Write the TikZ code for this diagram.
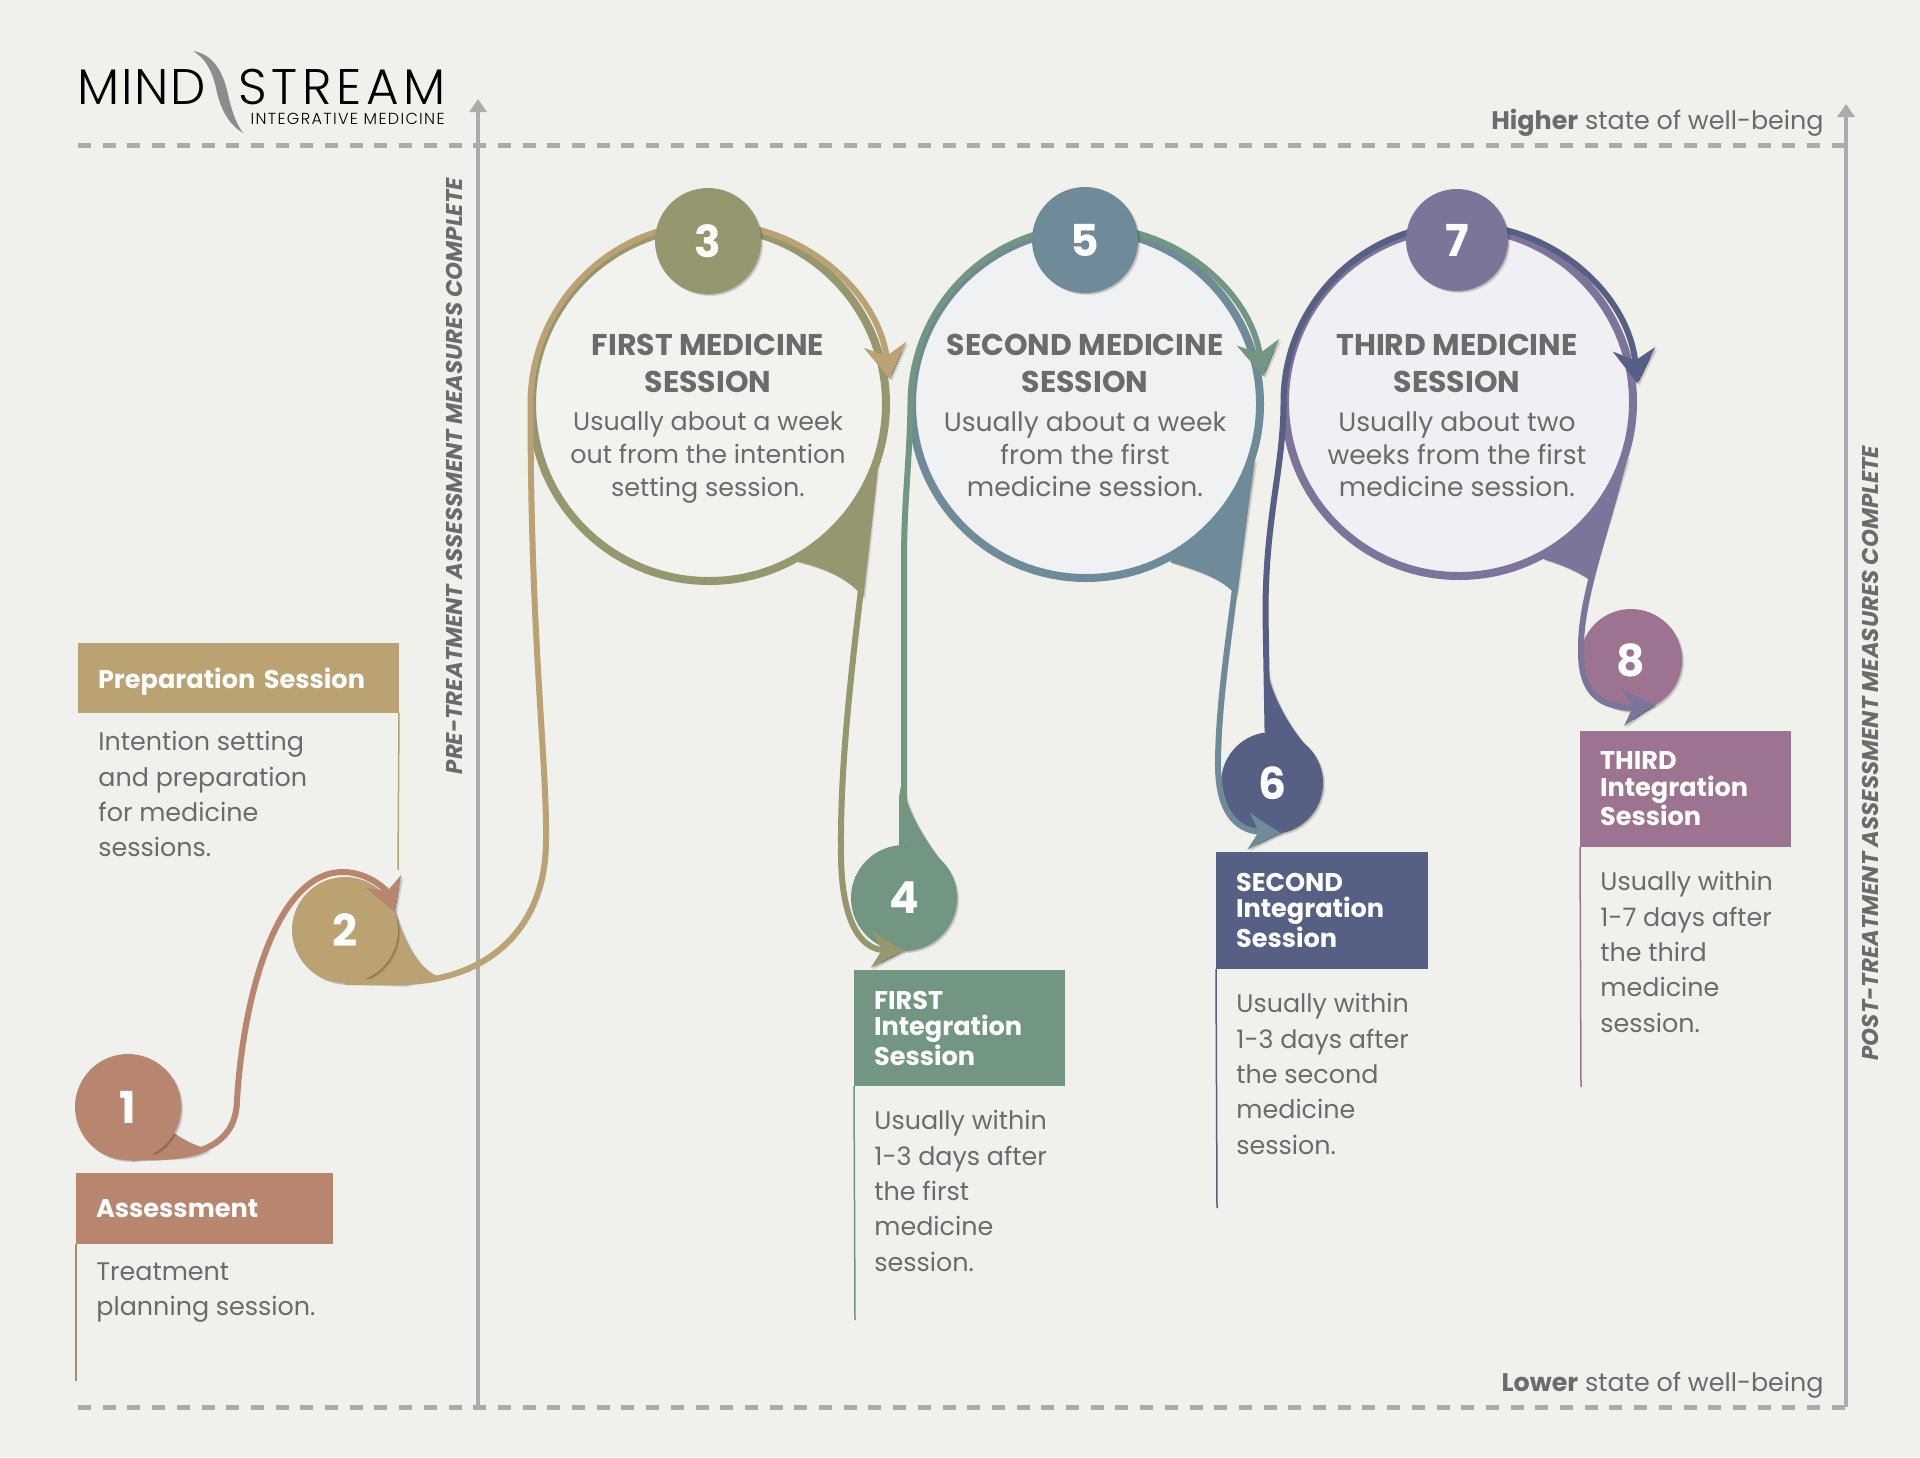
\documentclass[tikz,border=0pt]{standalone}
\usepackage{fontspec}
\setmainfont{Poppins}
\newfontfamily\logofont{Poppins}[UprightFont=*-Light]
\usetikzlibrary{arrows.meta,shadows}

\definecolor{paper}{HTML}{F0F0EC}
\definecolor{axisgrey}{HTML}{ABABAB}
\definecolor{inkgrey}{HTML}{6B6B6B}
\definecolor{clay}{HTML}{B8866F}
\definecolor{sand}{HTML}{BBA272}
\definecolor{olive}{HTML}{96966F}
\definecolor{sage}{HTML}{739682}
\definecolor{steel}{HTML}{6F8A99}
\definecolor{navy}{HTML}{565F84}
\definecolor{violet}{HTML}{7D7499}
\definecolor{plum}{HTML}{9C7390}
\definecolor{ringfilla}{HTML}{F2F2EE}
\definecolor{ringfillb}{HTML}{EFF1F3}
\definecolor{ringfillc}{HTML}{EFEFF4}

\tikzset{
softshadow/.style={general shadow={fill=black,opacity=.14,shadow xshift=.5pt,shadow yshift=-.5pt},
  general shadow={fill=black,opacity=.12,shadow xshift=1.1pt,shadow yshift=-1pt}},
numdot/.style={circle,fill=#1,minimum size=53pt,inner sep=0pt,outer sep=0pt,text=white,
  font=\fontsize{22}{24}\selectfont\bfseries,softshadow},
ringnode/.style={circle,draw=#1,line width=4pt,minimum size=174pt,inner sep=0pt,outer sep=.75pt,softshadow},
ringhead/.style={align=center,text=inkgrey,font=\fontsize{15}{18.5}\selectfont\bfseries},
ringbody/.style={anchor=north,align=center,text=inkgrey,font=\fontsize{13.3}{16.3}\selectfont},
headbox/.style={anchor=north west,fill=#1,text=white,align=left,inner xsep=10pt,inner ysep=0pt,outer sep=0pt,
  font=\fontsize{12.8}{13.2}\selectfont\bfseries},
bodytext/.style={anchor=north west,align=left,text=inkgrey,inner xsep=10pt,inner ysep=9pt,
  font=\fontsize{12.7}{17.7}\selectfont},
ribbon/.style={draw=#1,line width=3pt,-{Stealth[length=16pt,width=18pt,inset=5pt]},
  preaction={draw=black,draw opacity=.12,transform canvas={shift={(.6pt,-.6pt)}}},
  preaction={draw=black,draw opacity=.1,transform canvas={shift={(1.2pt,-1pt)}}}},
ringribbon/.style={ribbon=#1,-{Stealth[length=17pt,width=21pt,inset=5.5pt]}},
flare/.style={fill=#1,
  preaction={fill=black,fill opacity=.12,transform canvas={shift={(.6pt,-.6pt)}}},
  preaction={fill=black,fill opacity=.1,transform canvas={shift={(1.2pt,-1pt)}}}},
level/.style={draw=axisgrey,line width=2.5pt,dash pattern=on 6.5pt off 5.85pt},
axis/.style={draw=axisgrey,line width=1.75pt,-{Triangle[length=6.5pt,width=8.5pt]}},
sidelabel/.style={rotate=90,text=inkgrey,font=\fontsize{11.4}{13}\selectfont\bfseries\itshape},
endlabel/.style={anchor=base east,inner sep=0pt,text=inkgrey,font=\fontsize{12.7}{16}\selectfont},
}

\begin{document}
\begin{tikzpicture}[x=.5pt,y=-.5pt]
\useasboundingbox[fill=paper] (0,0) rectangle (1920,1457);

% logo
\fill[black!45] (193,51) .. controls (212,54) and (222,70) .. (227,90) .. controls (231,108) and (235,122) .. (243,133)
 .. controls (228,124) and (220,108) .. (216,88) .. controls (212,70) and (205,58) .. (193,51) -- cycle;
\node[anchor=base west,inner sep=0pt,font=\logofont\fontsize{25}{25}\selectfont\addfontfeature{LetterSpace=3.7}] (logoa) at (77,104) {MIND};
\node[anchor=base west,inner sep=0pt,font=\logofont\fontsize{25}{25}\selectfont\addfontfeature{LetterSpace=9.5}] (logob) at (238,104) {STREAM};
\node[anchor=base east,inner sep=0pt,font=\logofont\fontsize{8}{8}\selectfont\addfontfeature{LetterSpace=8.4}] (logoc) at (445,124) {INTEGRATIVE MEDICINE};

% levels and axes
\coordinate (topl) at (78,145);
\coordinate (topr) at (1846,145);
\coordinate (botl) at (78,1407);
\coordinate (botr) at (1846,1407);
\coordinate (prea) at (478,1407);
\coordinate (preb) at (478,99);
\coordinate (posta) at (1846,1407);
\coordinate (postb) at (1846,104);
\draw[level] (topl)--(topr);
\draw[level] (botl)--(botr);
\draw[axis] (prea)--(preb);
\draw[axis] (posta)--(postb);
\node[sidelabel] (prelabel) at (454,476) {PRE-TREATMENT ASSESSMENT MEASURES COMPLETE};
\node[sidelabel] (postlabel) at (1870,753) {POST-TREATMENT ASSESSMENT MEASURES COMPLETE};
\node[endlabel] (hilabel) at (1824,129) {\textbf{Higher} state of well-being};
\node[endlabel] (lolabel) at (1824,1391) {\textbf{Lower} state of well-being};

% text boxes
\node[headbox=clay,minimum height=35.5pt,text width=108.5pt] (boxa) at (76,1173) {Assessment};
\node[bodytext] (texta) at (boxa.south west) {Treatment\\planning session.};
\coordinate (enda) at (76,1381);
\draw[clay,line width=.75pt] (boxa.south west)--(enda);
\node[headbox=sand,minimum height=35pt,text width=140.5pt,text depth=0pt] (boxb) at (78,643) {Preparation Session};
\node[bodytext] (textb) at (boxb.south west) {Intention setting\\and preparation\\for medicine\\sessions.};
\coordinate (endb) at (398,870);
\draw[sand,line width=.75pt] (boxb.south east)--(endb);
\node[headbox=sage,minimum height=58pt,text width=85.5pt] (boxc) at (854,970) {FIRST\\Integration\\Session};
\node[bodytext,inner ysep=12pt] (textc) at (boxc.south west) {Usually within\\1-3 days after\\the first\\medicine\\session.};
\coordinate (endc) at (855,1320);
\draw[sage,line width=.75pt] (boxc.south west)--(endc);
\node[headbox=navy,minimum height=58.5pt,text width=86pt] (boxd) at (1216,852) {SECOND\\Integration\\Session};
\node[bodytext,inner ysep=12pt] (textd) at (boxd.south west) {Usually within\\1-3 days after\\the second\\medicine\\session.};
\coordinate (endd) at (1217,1208);
\draw[navy,line width=.75pt] (boxd.south west)--(endd);
\node[headbox=plum,minimum height=58pt,text width=85.5pt] (boxe) at (1580,731) {THIRD\\Integration\\Session};
\node[bodytext,inner ysep=12pt] (texte) at (boxe.south west) {Usually within\\1-7 days after\\the third\\medicine\\session.};
\coordinate (ende) at (1581,1087);
\draw[plum,line width=.75pt] (boxe.south west)--(ende);

% third ring
\fill[flare=violet] (1628,457)--(1590,580) .. controls (1575,570) and (1560,564) .. (1543,559)--cycle;
\node[ringnode=violet,fill=ringfillc] (ringc) at (1459,402) {};
\node[ringhead] (headc) at (1457,363) {THIRD MEDICINE\\SESSION};
\node[ringbody] (bodyc) at (1457,405) {Usually about two\\weeks from the first\\medicine session.};
\fill[flare=navy] (1272,783)--(1266,735)--(1266,677)--(1268,673) .. controls (1272,695) and (1290,730) .. (1312,752)--cycle;
\node[numdot=navy,minimum size=51pt] (six) at (1272,783) {6};
\draw[ringribbon=navy] (six.95)--++(-2,-113) .. controls +(-1,-100) and +(0,68) .. (ringc.west) arc[start angle=180,end angle=6,radius=88.75pt];
\node[numdot=violet,minimum size=51pt] (seven) at (1457,240) {7};
\node[numdot=plum,minimum size=51pt] (eight) at (1631,660) {8};
\draw[ribbon=violet] (ringc.-22) .. controls +(-17,70) and +(-1,-50) .. (1581,650) .. controls +(-1,45) and +(-52,4) .. (eight.-62);

% second ring
\fill[flare=steel] (1255,459)--(1236,595) .. controls (1222,578) and (1196,570) .. (1170,562)--cycle;
\node[ringnode=steel,fill=ringfillb] (ringb) at (1086,404) {};
\node[ringhead] (headb) at (1085,363) {SECOND MEDICINE\\SESSION};
\node[ringbody] (bodyb) at (1085,405) {Usually about a week\\from the first\\medicine session.};
\fill[flare=sage] (904,898)--(899,850)--(899,797)--(902,780) .. controls (906,810) and (922,835) .. (941,861)--cycle;
\node[numdot=sage] (four) at (904,898) {4};
\draw[ringribbon=sage] (four.north)--++(0,-285) .. controls +(0,-60) and +(-1,60) .. (ringb.west) arc[start angle=180,end angle=9,radius=88.75pt];
\node[numdot=steel] (five) at (1085,240) {5};
\draw[ribbon=steel] (ringb.-22) .. controls +(-11,119) and +(1,-80) .. (1218,760) .. controls +(-1,50) and +(-46,-3) .. (six.-80);

% first ring
\fill[flare=olive] (878,459)--(863,597) .. controls (848,578) and (825,568) .. (796,561)--cycle;
\node[ringnode=olive,minimum size=177pt,fill=ringfilla] (ringa) at (709,404) {};
\node[ringhead] (heada) at (708,363) {FIRST MEDICINE\\SESSION};
\node[ringbody,font=\fontsize{12.7}{16.3}\selectfont] (bodya) at (708,405) {Usually about a week\\out from the intention\\setting session.};
\fill[flare=sand] (345,983)--(405,985)--(437,976) .. controls (420,968) and (408,950) .. (395,912)--cycle;
\node[numdot=sand] (two) at (345,930) {2};
\draw[ringribbon=sand] (two.south)++(0,-1)--++(55,0) .. controls +(80,0) and +(0,95) .. (546,840) .. controls +(1,-80) and +(0,236) .. (ringa.west) arc[start angle=180,end angle=8,radius=90.25pt];
\node[numdot=olive] (three) at (708,241) {3};
\draw[ribbon=olive] (ringa.-22) .. controls +(-12,120) and +(-1,-117) .. (841,847) .. controls +(-1,73) and +(-44,-2) .. (four.south);
\fill[flare=clay] (128,1160)--(170,1158) .. controls (190,1158) and (203,1154) .. (208,1149) .. controls (197,1146) and (187,1142) .. (174,1133)--cycle;
\node[numdot=clay] (one) at (128,1107) {1};
\draw[ribbon=clay] (one.south)++(0,-3) .. controls +(62,3) and +(-1,50) .. (237,1100) .. controls +(6,-100) and +(-68,0) .. (343,872) .. controls +(25,0) and +(-8,-22) .. (two.20);
\end{tikzpicture}
\end{document}
